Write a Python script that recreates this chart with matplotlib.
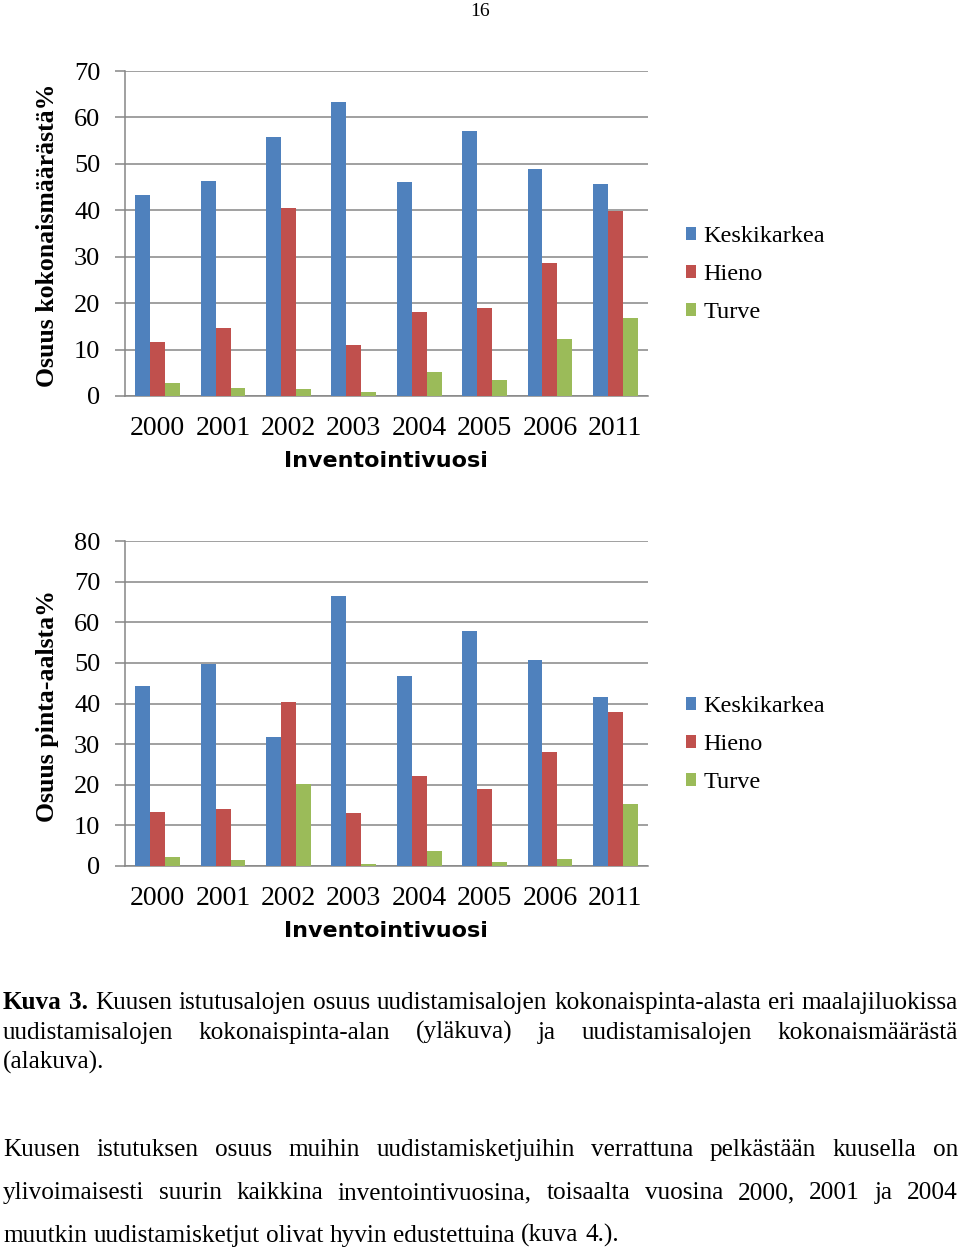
import matplotlib
matplotlib.use('Agg')
import matplotlib.pyplot as plt
import numpy as np
from matplotlib.transforms import Bbox

years = ['2000', '2001', '2002', '2003', '2004', '2005', '2006', '2011']
series_names = ['Keskikarkea', 'Hieno', 'Turve']
colors = ['#4F81BD', '#C0504D', '#9BBB59']

# upper chart: share of total number of sites (%)
count_keski = [43.2, 46.3, 55.7, 63.4, 46.2, 57.1, 48.8, 45.7]
count_hieno = [11.7, 14.6, 40.5, 11.0, 18.0, 18.9, 28.7, 39.9]
count_turve = [2.9, 1.8, 1.6, 0.9, 5.1, 3.4, 12.3, 16.9]

# lower chart: share of area (%)
area_keski = [44.4, 49.7, 31.7, 66.5, 46.8, 57.8, 50.6, 41.7]
area_hieno = [13.4, 14.0, 40.4, 13.0, 22.2, 19.0, 28.0, 37.9]
area_turve = [2.2, 1.5, 20.2, 0.5, 3.8, 1.0, 1.7, 15.3]

caption_1 = 'Kuusen istutusalojen osuus uudistamisalojen kokonaispinta-alasta eri maalajiluokissa'
caption_2 = 'uudistamisalojen kokonaispinta-alan (yläkuva) ja uudistamisalojen kokonaismäärästä'
caption_3 = '(alakuva).'
body_1 = 'Kuusen istutuksen osuus muihin uudistamisketjuihin verrattuna pelkästään kuusella on'
body_2 = 'ylivoimaisesti suurin kaikkina inventointivuosina, toisaalta vuosina 2000, 2001 ja 2004'
body_3 = 'muutkin uudistamisketjut olivat hyvin edustettuina (kuva 4.).'

W, H = 960, 1252
fig = plt.figure(figsize=(W / 100, H / 100), dpi=100)
serif = 'Liberation Serif'
grid_col = '#868686'


def px(x, y):
    # pixel (from top-left) -> figure fraction
    return x / W, 1 - y / H


def chart(top, bottom, data, ymax, ylabel, label_y, xlabel_top):
    l, b = px(125, bottom)
    r, t = px(648, top)
    ax = fig.add_axes([l, b, r - l, t - b])
    ind = np.arange(len(years))
    width = 0.228
    for i, vals in enumerate(data):
        ax.bar(ind + (i - 1) * width, vals, width, color=colors[i],
               label=series_names[i], zorder=3)
    ax.set_xlim(-0.5, len(years) - 0.5)
    ax.set_ylim(0, ymax)
    ax.set_yticks(np.arange(0, ymax + 1, 10))
    ax.set_xticks(ind)
    ax.set_xticklabels(years)
    ax.yaxis.grid(True, color=grid_col, linewidth=1.1, zorder=0)
    for s in ['top', 'right']:
        ax.spines[s].set_visible(False)
    for s in ['left', 'bottom']:
        ax.spines[s].set_color(grid_col)
        ax.spines[s].set_linewidth(1.1)
    ax.tick_params(axis='y', direction='out', length=7.2, width=1.1,
                   color=grid_col, pad=10.5, labelsize=19)
    ax.tick_params(axis='x', length=0, pad=14.5, labelsize=20)
    for lab in ax.get_xticklabels() + ax.get_yticklabels():
        lab.set_family(serif)
    fx, fy = px(48, label_y)
    fig.text(fx, fy, ylabel, rotation=90, ha='center', va='center',
             family=serif, fontweight='bold', fontsize=18.5)
    fx, fy = px(386, xlabel_top)
    xl = fig.text(fx, fy, 'Inventointivuosi', ha='center', va='top',
                  family='DejaVu Sans', fontweight='bold', fontsize=16)
    # the reference image cuts the axis title at its bottom
    xl.set_clip_box(Bbox([[0, H - (xlabel_top + 18)], [W, H]]))
    xl.set_clip_on(True)
    lx, ly = px(686, (top + bottom) / 2 + 41)
    ax.legend(loc='center left', bbox_to_anchor=(lx, ly),
              bbox_transform=fig.transFigure, frameon=False,
              prop={'family': serif, 'size': 17.5}, handlelength=0.42,
              handleheight=0.42, handletextpad=0.3, labelspacing=0.7,
              borderpad=0, borderaxespad=0)
    return ax


chart(71, 396, [count_keski, count_hieno, count_turve], 70,
      'Osuus kokonaismäärästä%', 235, 451)
chart(541, 866, [area_keski, area_hieno, area_turve], 80,
      'Osuus pinta-aalsta%', 706, 921)

fx, fy = px(480, 11)
fig.text(fx, fy, '16', ha='center', va='center', family=serif, fontsize=14)

renderer = fig.canvas.get_renderer()
TS = 18.2


def word_width(w, weight='normal'):
    t = fig.text(0, 0, w, family=serif, fontsize=TS, fontweight=weight)
    wd = t.get_window_extent(renderer).width
    t.remove()
    return wd


def put_line(words, y, justify, x0=3, x1=958):
    # words: list of (text, weight)
    widths = [word_width(w, wt) for w, wt in words]
    space = word_width('a a') - word_width('aa')
    if justify and len(words) > 1:
        space = (x1 - x0 - sum(widths)) / (len(words) - 1)
    x = x0
    for (w, wt), wd in zip(words, widths):
        fx, fy = px(x, y)
        fig.text(fx, fy, w, family=serif, fontsize=TS, fontweight=wt,
                 ha='left', va='baseline')
        x += wd + space


def plain(s):
    return [(w, 'normal') for w in s.split()]


put_line([('Kuva', 'bold'), ('3.', 'bold')] + plain(caption_1), 1009, True)
put_line(plain(caption_2), 1039, True)
put_line(plain(caption_3), 1069, False)
put_line(plain(body_1), 1156, True)
put_line(plain(body_2), 1199, True)
put_line(plain(body_3), 1242, False)

fig.savefig('out.png', dpi=100)
